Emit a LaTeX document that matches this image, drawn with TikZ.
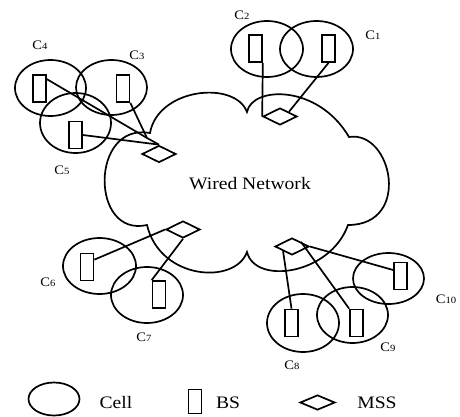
\documentclass[tikz,border=0pt]{standalone}
\usepackage{fontspec}
\setmainfont{Liberation Serif}[FakeStretch=1.12]
\usetikzlibrary{shapes.geometric}
\newcommand\clab[1]{C{\fontsize{9.5}{9.5}\selectfont #1}}
\begin{document}
\begin{tikzpicture}[x=1pt,y=-1pt,line width=1.7pt,
  cell/.style 2 args={draw,ellipse,inner sep=0pt,minimum width=#1,minimum height=#2},
  bsbox/.style={draw,rectangle,inner sep=0pt,minimum width=13pt,minimum height=27pt},
  mssbox/.style={draw,diamond,inner sep=0pt,minimum width=34pt,minimum height=17pt},
  lbl/.style={font=\fontsize{13}{13}\selectfont,inner sep=0pt},
  big/.style={font=\fontsize{17.5}{17.5}\selectfont,inner sep=0pt}]
\useasboundingbox (0,0) rectangle (460,417);
% cloud
\draw (150,133) .. controls (158,88) and (235,80) .. (247,112)
  .. controls (252,86) and (318,84) .. (349,137)
  .. controls (392,130) and (412,225) .. (348,225)
  .. controls (330,275) and (255,285) .. (247,252)
  .. controls (235,285) and (160,280) .. (147,225)
  .. controls (90,238) and (90,122) .. cycle;
\node[big] (wired) at (250,184) {Wired Network};
% cells
\node[cell={73pt}{56pt}] (c1) at (316.5,49) {};
\node[cell={72pt}{56pt}] (c2) at (267,49) {};
\node[cell={71pt}{55pt}] (c3) at (111.5,87.5) {};
\node[cell={71pt}{56pt}] (c4) at (50.5,88) {};
\node[cell={71pt}{60pt}] (c5) at (75.5,123) {};
\node[cell={73pt}{56pt}] (c6) at (99.5,266) {};
\node[cell={72pt}{56pt}] (c7) at (147,295) {};
\node[cell={72pt}{58pt}] (c8) at (303,323) {};
\node[cell={71pt}{56pt}] (c9) at (352.5,315) {};
\node[cell={71pt}{51pt}] (c10) at (388.5,278.5) {};
% base stations
\node[bsbox] (b1) at (328.5,48.5) {};
\node[bsbox] (b2) at (255.5,48.5) {};
\node[bsbox] (b3) at (123,88.5) {};
\node[bsbox] (b4) at (39.5,88.5) {};
\node[bsbox] (b5) at (75.5,135) {};
\node[bsbox] (b6) at (87,267) {};
\node[bsbox] (b7) at (159,294.5) {};
\node[bsbox] (b8) at (291.5,323) {};
\node[bsbox] (b9) at (356.5,323) {};
\node[bsbox] (b10) at (400.5,276) {};
% MSS
\node[mssbox] (m1) at (280,116.5) {};
\node[mssbox] (m2) at (159,154) {};
\node[mssbox] (m3) at (183,229.5) {};
\node[mssbox] (m4) at (292,246.5) {};
\coordinate (J) at (147,138);
% connectors
\draw (b2.south east) -- (m1.west);
\draw (b1.south) -- (m1.north east);
\draw ([yshift=-5pt]b4.north east) -- (J);
\draw (b3.south east) -- (J);
\draw (J) -- (m2.north);
\draw (b5.east) -- (m2.north);
\draw ([yshift=-7pt]b6.north east) -- (m3.west);
\draw (b7.north west) -- (m3.south);
\draw (b8.north) -- (m4.south west);
\draw (b9.north west) -- (m4.north east);
\draw ([yshift=6pt]b10.west) -- (m4.east);
% labels
\node[lbl] (l1) at (373,35) {\clab{1}};
\node[lbl] (l2) at (242,15) {\clab{2}};
\node[lbl] (l3) at (137,55) {\clab{3}};
\node[lbl] (l4) at (40,45) {\clab{4}};
\node[lbl] (l5) at (62,170) {\clab{5}};
\node[lbl] (l6) at (48,282) {\clab{6}};
\node[lbl] (l7) at (144,337) {\clab{7}};
\node[lbl] (l8) at (292,365) {\clab{8}};
\node[lbl] (l9) at (388,347) {\clab{9}};
\node[lbl] (l10) at (446,299) {\clab{10}};
% legend
\node[cell={51pt}{33pt}] (lgcell) at (54,399) {};
\node[big] (tcell) at (116,403) {Cell};
\node[draw,rectangle,inner sep=0pt,minimum width=13pt,minimum height=24pt] (lgbs) at (195,401.5) {};
\node[big] (tbs) at (228,403) {BS};
\node[draw,diamond,inner sep=0pt,minimum width=35pt,minimum height=15pt] (lgmss) at (317.5,402.5) {};
\node[big] (tmss) at (377,403) {MSS};
\end{tikzpicture}
\end{document}
